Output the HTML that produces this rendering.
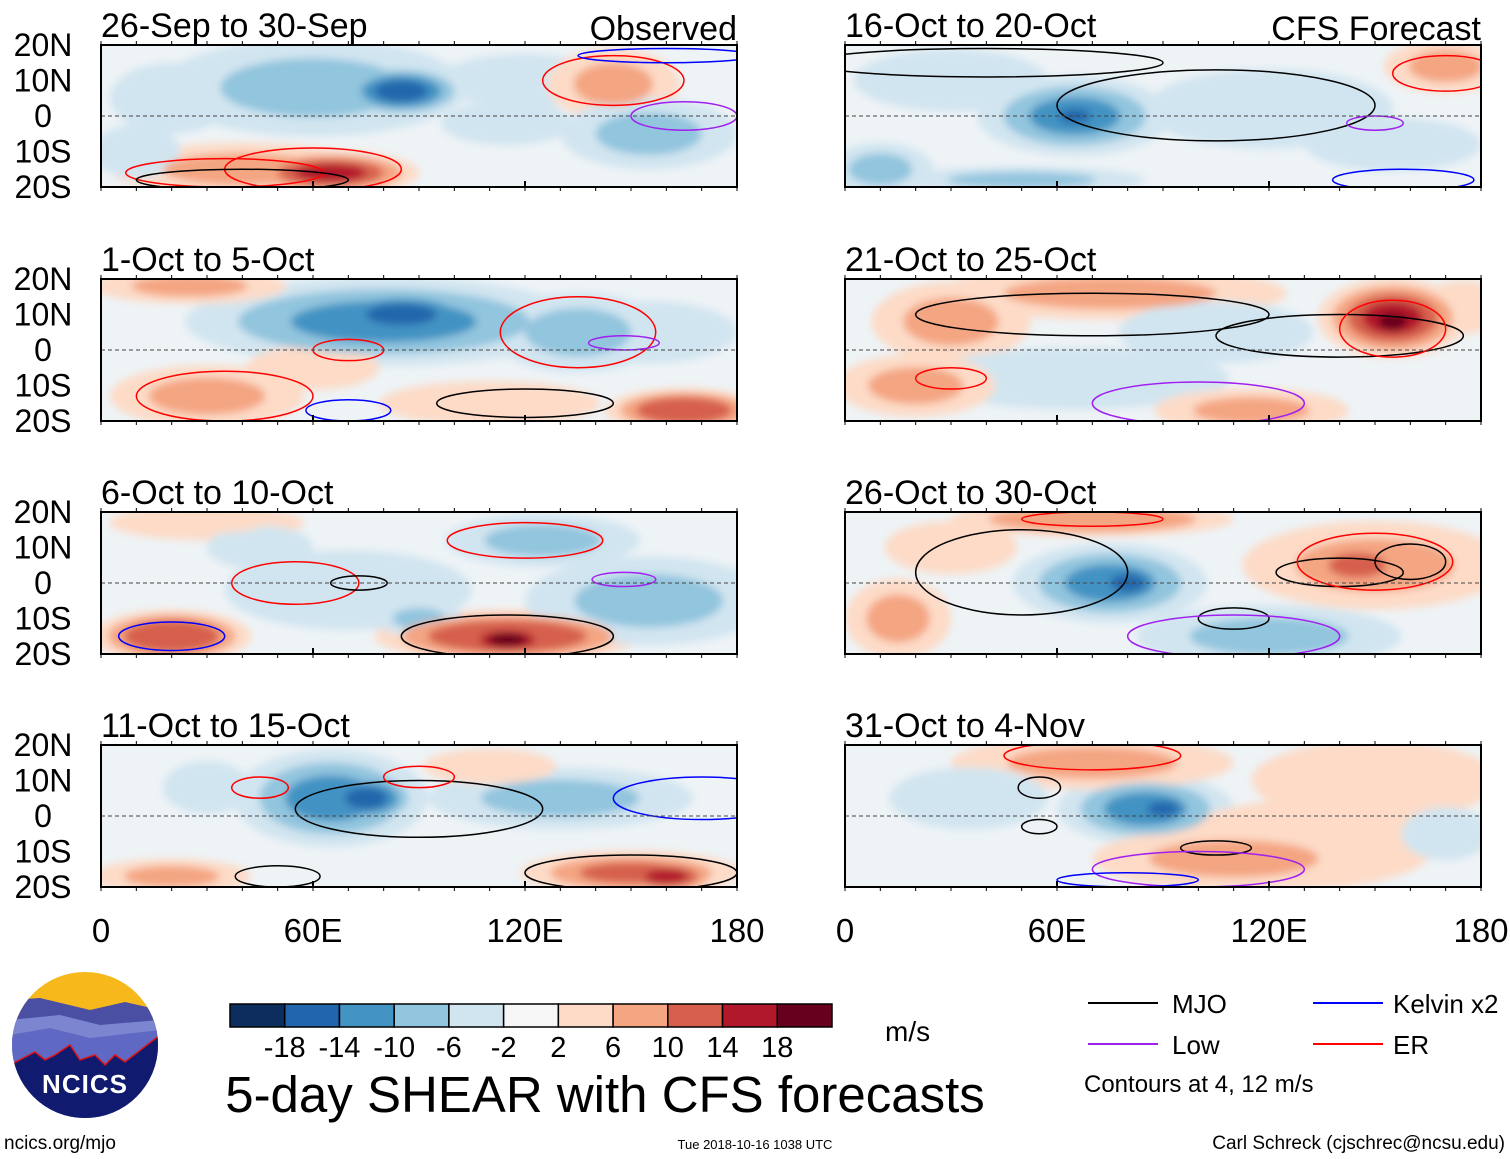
<!DOCTYPE html>
<html><head><meta charset="utf-8"><style>
body{margin:0;background:#fff;font-family:"Liberation Sans",sans-serif}
svg{display:block}
</style></head><body>
<svg id="s" width="1510" height="1159" xmlns="http://www.w3.org/2000/svg" font-family="Liberation Sans, sans-serif">
<defs>
<filter id="bl" x="-50%" y="-50%" width="200%" height="200%"><feGaussianBlur stdDeviation="4"/></filter>
<clipPath id="lc"><circle cx="85" cy="1045" r="73"/></clipPath>
</defs>
<g id="panels"></g>
<g>
<g clip-path="url(#lc)">
<rect x="10" y="970" width="150" height="150" fill="#f6b81a"/>
<path d="M10 1000 L40 998 L90 1010 L125 1002 L160 1010 L160 1120 L10 1120Z" fill="#4a4fa3"/>
<path d="M10 1020 L60 1015 L100 1025 L160 1020 L160 1120 L10 1120Z" fill="#7c86d0"/>
<path d="M10 1035 L50 1028 L90 1038 L160 1030 L160 1120 L10 1120Z" fill="#5f69c4"/>
<path d="M10 1065 L35 1052 L45 1060 L55 1055 L70 1045 L80 1060 L95 1055 L105 1065 L115 1055 L125 1062 L160 1035 L160 1120 L10 1120Z" fill="#101a6e" stroke="#e01010" stroke-width="1.5"/>
</g>
<text x="85" y="1093" font-size="26" font-weight="bold" fill="#fff" text-anchor="middle" letter-spacing="1">NCICS</text>
</g>
<text x="4" y="1149" font-size="19">ncics.org/mjo</text>
<g id="cbar"></g>
<text x="885" y="1041" font-size="28">m/s</text>
<text x="605" y="1112" font-size="51" text-anchor="middle">5-day SHEAR with CFS forecasts</text>
<text x="755" y="1149" font-size="13" text-anchor="middle">Tue 2018-10-16 1038 UTC</text>
<text x="1505" y="1149" font-size="19" text-anchor="end">Carl Schreck (cjschrec@ncsu.edu)</text>
<g>
<line x1="1088" y1="1003" x2="1158" y2="1003" stroke="#000" stroke-width="2"/><text x="1172" y="1013" font-size="26">MJO</text>
<line x1="1313" y1="1003" x2="1383" y2="1003" stroke="#0000ff" stroke-width="2"/><text x="1393" y="1013" font-size="26">Kelvin x2</text>
<line x1="1088" y1="1044" x2="1158" y2="1044" stroke="#a020f0" stroke-width="2"/><text x="1172" y="1054" font-size="26">Low</text>
<line x1="1313" y1="1044" x2="1383" y2="1044" stroke="#ff0000" stroke-width="2"/><text x="1393" y="1054" font-size="26">ER</text>
<text x="1084" y="1092" font-size="24">Contours at 4, 12 m/s</text>
</g>
</svg>
<script>
const levels=[-18,-14,-10,-6,-2,2,6,10,14,18];
const colors=["#0c2d5e","#2166ac","#4393c3","#92c5de","#d1e5f0","#f7f7f7","#fddbc7","#f4a582","#d6604d","#b2182b","#67001f"];
const titles=["26-Sep to 30-Sep","1-Oct to 5-Oct","6-Oct to 10-Oct","11-Oct to 15-Oct","16-Oct to 20-Oct","21-Oct to 25-Oct","26-Oct to 30-Oct","31-Oct to 4-Nov"];
const latTicks=[20,10,0,-10,-20];
const latLabels=["20N","10N","0","10S","20S"];
const lonTicks=[0,60,120,180];
const lonLabels=["0","60E","120E","180"];
// blobs: [lon, lat, halfwidth lon, halfwidth lat, shear value]
const blobs0=[[60,8,35,11,-8],[85,7,15,6,-16],[20,5,14,8,-5],[120,10,20,6,-4],[40,-15,30,6,8],[65,-16,20,5,15],[145,9,15,8,9],[155,-5,20,8,-6],[115,-2,15,5,-4],[10,-10,10,6,-4]];
const blobs1=[[80,8,45,10,-10],[85,10,20,6,-14],[135,5,20,9,-9],[30,-13,22,7,8],[25,18,22,4,8],[165,-17,18,5,14],[155,5,20,7,-5],[60,-5,15,5,4],[110,-15,25,5,5]];
const blobs2=[[20,-15,18,6,14],[115,-15,30,6,14],[115,-16,12,4,20],[70,-2,28,9,-5],[155,-5,28,10,-7],[125,12,22,6,-6],[30,17,22,4,6],[90,-10,10,4,-6],[45,10,12,5,-4]];
const blobs3=[[65,5,22,11,-10],[75,5,12,6,-14],[150,-16,25,5,12],[160,-17,12,4,16],[130,5,30,7,-6],[20,-17,18,4,8],[30,8,10,6,-5],[110,14,15,4,4]];
const blobs4=[[65,0,22,9,-10],[65,0,9,4,-14],[10,-15,12,6,-7],[120,2,28,9,-4],[30,10,22,7,-4],[170,14,14,6,7],[50,-18,28,3,-6],[155,-8,20,6,-4]];
const blobs5=[[155,9,17,9,15],[155,8,7,4,22],[75,16,40,6,9],[30,8,18,9,9],[65,-8,35,7,-5],[105,5,22,7,-5],[115,-17,22,5,8],[20,-10,18,7,7],[175,12,10,6,4]];
const blobs6=[[75,0,22,9,-10],[80,0,10,5,-14],[150,5,30,10,8],[145,5,14,6,12],[70,18,32,4,10],[15,-10,12,9,8],[120,-15,30,7,-6],[30,10,15,6,5]];
const blobs7=[[85,2,20,8,-10],[90,2,9,4,-14],[110,-12,32,7,8],[130,-8,30,10,5],[70,15,32,6,8],[150,10,28,9,6],[35,5,18,7,-4],[170,-5,10,6,-4]];
const allBlobs=[blobs0,blobs1,blobs2,blobs3,blobs4,blobs5,blobs6,blobs7];
// contours: [lon, lat, halfwidth lon, halfwidth lat, type]
const cont0=[[35,-16,28,4,"er"],[60,-15,25,6,"er"],[145,10,20,7,"er"],[165,0,15,4,"low"],[40,-18,30,3,"mjo"],[160,17,25,2,"kel"]];
const cont1=[[135,5,22,10,"er"],[70,0,10,3,"er"],[35,-13,25,7,"er"],[148,2,10,2,"low"],[120,-15,25,4,"mjo"],[70,-17,12,3,"kel"]];
const cont2=[[55,0,18,6,"er"],[120,12,22,5,"er"],[20,-15,15,4,"kel"],[115,-15,30,6,"mjo"],[73,0,8,2,"mjo"],[148,1,9,2,"low"]];
const cont3=[[90,2,35,8,"mjo"],[45,8,8,3,"er"],[170,5,25,6,"kel"],[50,-17,12,3,"mjo"],[150,-16,30,5,"mjo"],[90,11,10,3,"er"]];
const cont4=[[105,3,45,10,"mjo"],[40,15,50,4,"mjo"],[158,-18,20,3,"kel"],[150,-2,8,2,"low"],[170,12,15,5,"er"]];
const cont5=[[140,4,35,6,"mjo"],[155,6,15,8,"er"],[70,10,50,6,"mjo"],[100,-15,30,6,"low"],[30,-8,10,3,"er"]];
const cont6=[[140,3,18,4,"mjo"],[160,6,10,5,"mjo"],[150,6,22,8,"er"],[50,3,30,12,"mjo"],[110,-10,10,3,"mjo"],[110,-15,30,6,"low"],[70,18,20,2,"er"]];
const cont7=[[105,-9,10,2,"mjo"],[100,-15,30,5,"low"],[70,17,25,4,"er"],[55,8,6,3,"mjo"],[55,-3,5,2,"mjo"],[80,-18,20,2,"kel"]];
const allCont=[cont0,cont1,cont2,cont3,cont4,cont5,cont6,cont7];
const ctype={mjo:"#000",kel:"#0000ff",low:"#a020f0",er:"#ff0000"};
const NS="http://www.w3.org/2000/svg";
function mk(t,a,p){const e=document.createElementNS(NS,t);for(const k in a)e.setAttribute(k,a[k]);p.appendChild(e);return e;}
function colorFor(v){let i=0;while(i<levels.length&&v>levels[i])i++;return colors[i];}
const root=document.getElementById('panels');
const lefts=[101,845],tops=[45,279,512,745],W=636,H=142;
allBlobs.forEach((bl,pi)=>{
  const col=pi<4?0:1,row=pi%4;const x0=lefts[col],y0=tops[row];
  const X=lon=>x0+lon/180*W, Y=lat=>y0+(20-lat)/40*H;
  const g=mk('g',{},root);
  
  
  const cid='c'+pi;const cp=mk('clipPath',{id:cid},g);mk('rect',{x:x0,y:y0,width:W,height:H},cp);
  const inner=mk('g',{'clip-path':'url(#'+cid+')'},g);
  mk('rect',{x:x0,y:y0,width:W,height:H,fill:'#eef3f6'},inner);
  const fg=mk('g',{filter:'url(#bl)'},inner);
  const rings=[];
  bl.forEach(b=>{
    const steps=Math.max(1,Math.ceil((Math.abs(b[4])-1)/4));
    for(let s=1;s<=steps;s++){const f=1.25-(s-1)/steps;const v=Math.sign(b[4])*Math.min(Math.abs(b[4]),s*4);
      rings.push({b,f,v});}
  });
  rings.sort((a,c)=>Math.abs(a.v)-Math.abs(c.v));
  rings.forEach(r=>{const b=r.b;
    const e=mk('ellipse',{cx:X(b[0]),cy:Y(b[1]),rx:(X(b[2])-X(0))*r.f,ry:(Y(0)-Y(b[3]))*r.f,fill:colorFor(r.v)},fg);
    
    });
  allCont[pi].forEach(c=>{
    const e=mk('ellipse',{cx:X(c[0]),cy:Y(c[1]),rx:X(c[2])-X(0),ry:Y(0)-Y(c[3]),fill:'none',stroke:ctype[c[4]],'stroke-width':1.5},inner);
    
    
  });
  mk('line',{x1:x0,y1:Y(0),x2:x0+W,y2:Y(0),stroke:'#444','stroke-dasharray':'4,3','stroke-width':1},inner);
  mk('rect',{x:x0,y:y0,width:W,height:H,fill:'none',stroke:'#000','stroke-width':2},g);
  lonTicks.forEach(l=>{mk('line',{x1:X(l),y1:y0+H,x2:X(l),y2:y0+H-6,stroke:'#000','stroke-width':2},g);});
  for(let l=0;l<=180;l+=10){mk('line',{x1:X(l),y1:y0,x2:X(l),y2:y0-4,stroke:'#000'},g);mk('line',{x1:X(l),y1:y0+H,x2:X(l),y2:y0+H+4,stroke:'#000'},g);}
  const t=mk('text',{x:x0,y:y0-8,'font-size':34},g);t.textContent=titles[pi];
  
  if(pi===0||pi===4){const r=mk('text',{x:x0+W,y:y0-5,'font-size':34,'text-anchor':'end'},g);r.textContent=pi===0?'Observed':'CFS Forecast';
    }
  if(col===0){latTicks.forEach((lt,i)=>{const tt=mk('text',{x:x0-58,y:Y(lt)+11,'font-size':32,'text-anchor':'middle'},g);tt.textContent=latLabels[i];
    });}
  if(row===3){lonTicks.forEach((l,i)=>{const tt=mk('text',{x:X(l),y:y0+H+55,'font-size':33,'text-anchor':'middle'},g);tt.textContent=lonLabels[i];
    });}
});
const cb=document.getElementById('cbar');const cw=602/11;
colors.forEach((c,i)=>{const r=mk('rect',{x:230+i*cw,y:1004,width:cw,height:23,fill:c,stroke:'#000','stroke-width':1.5},cb);
  });
levels.forEach((v,i)=>{const t=mk('text',{x:230+(i+1)*cw,y:1057,'font-size':29,'text-anchor':'middle'},cb);t.textContent=v;
  });
</script>
</body></html>
